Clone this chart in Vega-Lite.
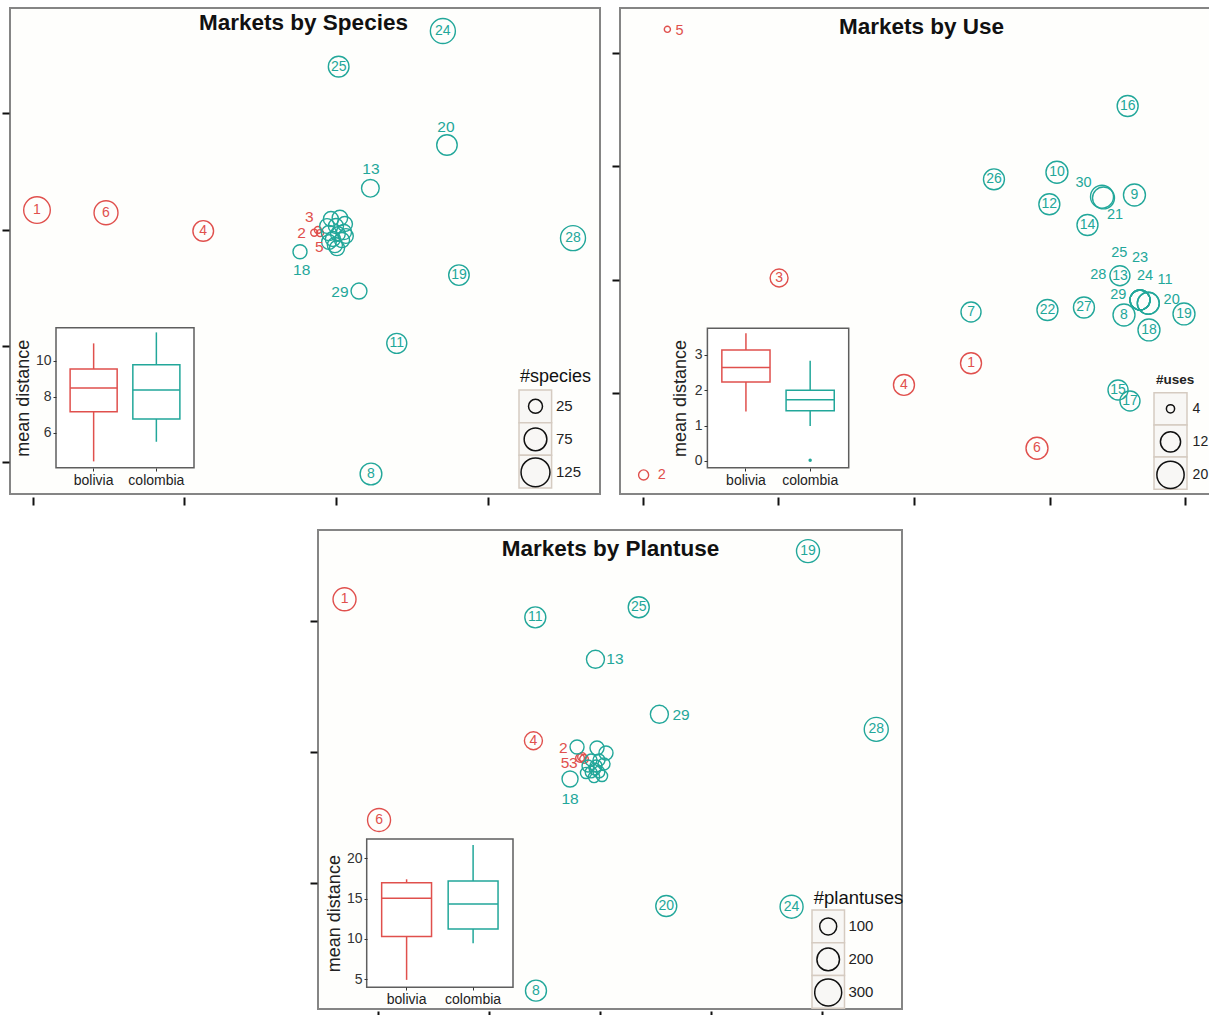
{
  "$schema": "https://vega.github.io/schema/vega-lite/v6.json",
  "width": 1209,
  "height": 1015,
  "autosize": "none",
  "padding": 0,
  "background": "white",
  "config": {"font": "Liberation Sans", "view": {"stroke": null}},
  "datasets": {
    "p1": [
      {"id": 1, "country": "bolivia", "x": -1.971, "y": 1.169, "n": 105, "lab": "1", "lx": -1.971, "ly": 1.169},
      {"id": 6, "country": "bolivia", "x": -1.516, "y": 1.146, "n": 84, "lab": "6", "lx": -1.516, "ly": 1.146},
      {"id": 4, "country": "bolivia", "x": -0.875, "y": 0.989, "n": 61, "lab": "4", "lx": -0.875, "ly": 0.989},
      {"id": 2, "country": "bolivia", "x": -0.143, "y": 0.974, "n": 2, "lab": "2", "lx": -0.226, "ly": 0.969},
      {"id": 3, "country": "bolivia", "x": -0.119, "y": 0.997, "n": 2, "lab": "3", "lx": -0.176, "ly": 1.11},
      {"id": 5, "country": "bolivia", "x": -0.105, "y": 0.971, "n": 2, "lab": "5", "lx": -0.11, "ly": 0.855},
      {"id": 7, "country": "colombia", "x": -0.033, "y": 1.092, "n": 30},
      {"id": 9, "country": "colombia", "x": 0.026, "y": 1.1, "n": 32},
      {"id": 10, "country": "colombia", "x": 0.059, "y": 1.049, "n": 30},
      {"id": 12, "country": "colombia", "x": -0.059, "y": 1.032, "n": 28},
      {"id": 14, "country": "colombia", "x": 0.0, "y": 1.032, "n": 30},
      {"id": 15, "country": "colombia", "x": 0.053, "y": 0.98, "n": 30},
      {"id": 16, "country": "colombia", "x": -0.046, "y": 0.971, "n": 30},
      {"id": 17, "country": "colombia", "x": 0.013, "y": 0.963, "n": 28},
      {"id": 21, "country": "colombia", "x": -0.02, "y": 0.92, "n": 30},
      {"id": 22, "country": "colombia", "x": 0.04, "y": 0.911, "n": 30},
      {"id": 23, "country": "colombia", "x": 0.066, "y": 0.946, "n": 28},
      {"id": 26, "country": "colombia", "x": -0.007, "y": 0.868, "n": 30},
      {"id": 27, "country": "colombia", "x": -0.046, "y": 0.894, "n": 28},
      {"id": 30, "country": "colombia", "x": 0.007, "y": 0.842, "n": 30},
      {"id": 24, "country": "colombia", "x": 0.705, "y": 2.708, "n": 92, "lab": "24", "lx": 0.705, "ly": 2.708},
      {"id": 25, "country": "colombia", "x": 0.018, "y": 2.402, "n": 61, "lab": "25", "lx": 0.018, "ly": 2.402},
      {"id": 20, "country": "colombia", "x": 0.732, "y": 1.728, "n": 60, "lab": "20", "lx": 0.725, "ly": 1.883},
      {"id": 13, "country": "colombia", "x": 0.227, "y": 1.356, "n": 43, "lab": "13", "lx": 0.231, "ly": 1.519},
      {"id": 28, "country": "colombia", "x": 1.563, "y": 0.928, "n": 92, "lab": "28", "lx": 1.563, "ly": 0.928},
      {"id": 18, "country": "colombia", "x": -0.237, "y": 0.811, "n": 25, "lab": "18", "lx": -0.226, "ly": 0.653},
      {"id": 19, "country": "colombia", "x": 0.811, "y": 0.61, "n": 60, "lab": "19", "lx": 0.811, "ly": 0.61},
      {"id": 29, "country": "colombia", "x": 0.152, "y": 0.473, "n": 34, "lab": "29", "lx": 0.026, "ly": 0.464},
      {"id": 11, "country": "colombia", "x": 0.401, "y": 0.023, "n": 57, "lab": "11", "lx": 0.401, "ly": 0.023},
      {"id": 8, "country": "colombia", "x": 0.231, "y": -1.1, "n": 68, "lab": "8", "lx": 0.231, "ly": -1.1}
    ],
    "p2": [
      {"id": 1, "country": "bolivia", "x": 0.42, "y": 0.262, "n": 12.8, "lab": "1", "lx": 0.42, "ly": 0.262},
      {"id": 2, "country": "bolivia", "x": -1.992, "y": -0.723, "n": 4.8, "lab": "2", "lx": -1.859, "ly": -0.723},
      {"id": 3, "country": "bolivia", "x": -0.994, "y": 1.014, "n": 10, "lab": "3", "lx": -0.994, "ly": 1.014},
      {"id": 4, "country": "bolivia", "x": -0.074, "y": 0.071, "n": 12.8, "lab": "4", "lx": -0.074, "ly": 0.071},
      {"id": 5, "country": "bolivia", "x": -1.817, "y": 3.207, "n": 3.3, "lab": "5", "lx": -1.727, "ly": 3.195},
      {"id": 6, "country": "bolivia", "x": 0.906, "y": -0.488, "n": 13.8, "lab": "6", "lx": 0.906, "ly": -0.488},
      {"id": 7, "country": "colombia", "x": 0.42, "y": 0.714, "n": 11.9, "lab": "7", "lx": 0.42, "ly": 0.714},
      {"id": 8, "country": "colombia", "x": 1.547, "y": 0.688, "n": 13.8, "lab": "8", "lx": 1.547, "ly": 0.688},
      {"id": 9, "country": "colombia", "x": 1.624, "y": 1.746, "n": 13.8, "lab": "9", "lx": 1.624, "ly": 1.746},
      {"id": 10, "country": "colombia", "x": 1.053, "y": 1.946, "n": 13.8, "lab": "10", "lx": 1.053, "ly": 1.946},
      {"id": 11, "country": "colombia", "x": 1.726, "y": 0.791, "n": 13.8, "lab": "11", "lx": 1.849, "ly": 1.0},
      {"id": 12, "country": "colombia", "x": 0.997, "y": 1.664, "n": 12.8, "lab": "12", "lx": 0.997, "ly": 1.664},
      {"id": 13, "country": "colombia", "x": 1.517, "y": 1.034, "n": 11.9, "lab": "13", "lx": 1.517, "ly": 1.034},
      {"id": 14, "country": "colombia", "x": 1.278, "y": 1.481, "n": 12.8, "lab": "14", "lx": 1.278, "ly": 1.481},
      {"id": 15, "country": "colombia", "x": 1.503, "y": 0.026, "n": 11.9, "lab": "15", "lx": 1.503, "ly": 0.026},
      {"id": 16, "country": "colombia", "x": 1.574, "y": 2.531, "n": 12.8, "lab": "16", "lx": 1.574, "ly": 2.531},
      {"id": 17, "country": "colombia", "x": 1.591, "y": -0.071, "n": 11.9, "lab": "17", "lx": 1.591, "ly": -0.071},
      {"id": 18, "country": "colombia", "x": 1.731, "y": 0.556, "n": 13.8, "lab": "18", "lx": 1.731, "ly": 0.556},
      {"id": 19, "country": "colombia", "x": 1.989, "y": 0.697, "n": 13.8, "lab": "19", "lx": 1.989, "ly": 0.697},
      {"id": 20, "country": "colombia", "x": 1.726, "y": 0.791, "n": 13.8, "lab": "20", "lx": 1.898, "ly": 0.82},
      {"id": 21, "country": "colombia", "x": 1.396, "y": 1.72, "n": 13.8, "lab": "21", "lx": 1.481, "ly": 1.57},
      {"id": 22, "country": "colombia", "x": 0.983, "y": 0.732, "n": 12.8, "lab": "22", "lx": 0.983, "ly": 0.732},
      {"id": 23, "country": "colombia", "x": 1.665, "y": 0.82, "n": 11.9, "lab": "23", "lx": 1.665, "ly": 1.188},
      {"id": 24, "country": "colombia", "x": 1.665, "y": 0.82, "n": 11.9, "lab": "24", "lx": 1.702, "ly": 1.034},
      {"id": 25, "country": "colombia", "x": 1.665, "y": 0.82, "n": 11.9, "lab": "25", "lx": 1.512, "ly": 1.232},
      {"id": 26, "country": "colombia", "x": 0.589, "y": 1.884, "n": 12.8, "lab": "26", "lx": 0.589, "ly": 1.884},
      {"id": 27, "country": "colombia", "x": 1.252, "y": 0.754, "n": 12.8, "lab": "27", "lx": 1.252, "ly": 0.754},
      {"id": 28, "country": "colombia", "x": 1.665, "y": 0.82, "n": 11.9, "lab": "28", "lx": 1.358, "ly": 1.041},
      {"id": 29, "country": "colombia", "x": 1.665, "y": 0.82, "n": 11.9, "lab": "29", "lx": 1.505, "ly": 0.864},
      {"id": 30, "country": "colombia", "x": 1.385, "y": 1.731, "n": 14.9, "lab": "30", "lx": 1.249, "ly": 1.854}
    ],
    "p3": [
      {"id": 1, "country": "bolivia", "x": -2.302, "y": 1.166, "n": 209, "lab": "1", "lx": -2.302, "ly": 1.166},
      {"id": 2, "country": "bolivia", "x": -0.162, "y": -0.038, "n": 3, "lab": "2", "lx": -0.331, "ly": 0.03},
      {"id": 3, "country": "bolivia", "x": -0.144, "y": -0.053, "n": 3, "lab": "3", "lx": -0.24, "ly": -0.085},
      {"id": 4, "country": "bolivia", "x": -0.6, "y": 0.086, "n": 116, "lab": "4", "lx": -0.6, "ly": 0.086},
      {"id": 5, "country": "bolivia", "x": -0.18, "y": -0.046, "n": 3, "lab": "5", "lx": -0.315, "ly": -0.085},
      {"id": 6, "country": "bolivia", "x": -1.991, "y": -0.519, "n": 209, "lab": "6", "lx": -1.991, "ly": -0.519},
      {"id": 7, "country": "colombia", "x": -0.207, "y": 0.038, "n": 58},
      {"id": 8, "country": "colombia", "x": -0.577, "y": -1.822, "n": 169, "lab": "8", "lx": -0.577, "ly": -1.822},
      {"id": 9, "country": "colombia", "x": -0.027, "y": 0.031, "n": 58},
      {"id": 10, "country": "colombia", "x": 0.054, "y": -0.008, "n": 58},
      {"id": 11, "country": "colombia", "x": -0.583, "y": 1.028, "n": 169, "lab": "11", "lx": -0.583, "ly": 1.028},
      {"id": 12, "country": "colombia", "x": -0.081, "y": -0.061, "n": 34},
      {"id": 13, "country": "colombia", "x": -0.041, "y": 0.708, "n": 116, "lab": "13", "lx": 0.135, "ly": 0.708},
      {"id": 14, "country": "colombia", "x": -0.009, "y": -0.061, "n": 34},
      {"id": 15, "country": "colombia", "x": -0.108, "y": -0.107, "n": 34},
      {"id": 16, "country": "colombia", "x": -0.036, "y": -0.107, "n": 34},
      {"id": 17, "country": "colombia", "x": 0.036, "y": -0.092, "n": 34},
      {"id": 18, "country": "colombia", "x": -0.27, "y": -0.206, "n": 85, "lab": "18", "lx": -0.27, "ly": -0.36},
      {"id": 19, "country": "colombia", "x": 1.874, "y": 1.534, "n": 209, "lab": "19", "lx": 1.874, "ly": 1.534},
      {"id": 20, "country": "colombia", "x": 0.597, "y": -1.176, "n": 169, "lab": "20", "lx": 0.597, "ly": -1.176},
      {"id": 21, "country": "colombia", "x": -0.081, "y": -0.153, "n": 30},
      {"id": 22, "country": "colombia", "x": -0.009, "y": -0.153, "n": 30},
      {"id": 23, "country": "colombia", "x": -0.054, "y": -0.191, "n": 25},
      {"id": 24, "country": "colombia", "x": 1.726, "y": -1.181, "n": 209, "lab": "24", "lx": 1.726, "ly": -1.181},
      {"id": 25, "country": "colombia", "x": 0.349, "y": 1.105, "n": 169, "lab": "25", "lx": 0.349, "ly": 1.105},
      {"id": 26, "country": "colombia", "x": 0.018, "y": -0.183, "n": 25},
      {"id": 27, "country": "colombia", "x": -0.126, "y": -0.16, "n": 25},
      {"id": 28, "country": "colombia", "x": 2.489, "y": 0.173, "n": 230, "lab": "28", "lx": 2.489, "ly": 0.173},
      {"id": 29, "country": "colombia", "x": 0.535, "y": 0.288, "n": 116, "lab": "29", "lx": 0.73, "ly": 0.282},
      {"id": 30, "country": "colombia", "x": -0.045, "y": -0.13, "n": 30}
    ],
    "b1": [
      {"country": "bolivia", "lo": 4.41, "q1": 7.17, "med": 8.48, "q3": 9.54, "hi": 10.96},
      {"country": "colombia", "lo": 5.5, "q1": 6.76, "med": 8.37, "q3": 9.78, "hi": 11.57}
    ],
    "b2": [
      {"country": "bolivia", "lo": 1.4, "q1": 2.23, "med": 2.64, "q3": 3.14, "hi": 3.61},
      {"country": "colombia", "lo": 0.99, "q1": 1.42, "med": 1.73, "q3": 2.0, "hi": 2.83}
    ],
    "o2": [
      {"country": "colombia", "v": 0.02}
    ],
    "b3": [
      {"country": "bolivia", "lo": 4.92, "q1": 10.29, "med": 15.04, "q3": 16.98, "hi": 17.4},
      {"country": "colombia", "lo": 9.46, "q1": 11.24, "med": 14.34, "q3": 17.19, "hi": 21.65}
    ]
  },
  "resolve": {
    "scale": {"x": "independent", "y": "independent", "size": "independent"},
    "axis": {"x": "independent", "y": "independent"},
    "legend": {"size": "independent"}
  },
  "layer": [
    {
      "layer": [
        {
          "data": {"values": [{"x": -2.149, "xe": 1.741, "y": -1.272, "ye": 2.906}]},
          "mark": {"type": "rect", "fill": "#FEFEFC", "stroke": "#858585", "strokeWidth": 2},
          "encoding": {
            "x": {"field": "x", "type": "quantitative", "scale": {"domain": [-2.149, 1.741], "range": [10, 600], "nice": false, "zero": false},
              "axis": {"zindex": 1, "orient": "bottom", "offset": -518, "values": [-2, -1, 0, 1], "labels": false, "domain": false, "grid": false, "tickSize": 8, "tickWidth": 2, "tickColor": "#111", "title": "Markets by Species", "titleX": 303, "titleY": -475, "titleBaseline": "middle", "titleAlign": "center", "titleFontSize": 22.5, "titleFontWeight": "bold", "titleColor": "#111"}},
            "x2": {"field": "xe"},
            "y": {"field": "y", "type": "quantitative", "scale": {"domain": [-1.272, 2.906], "range": [494, 8], "nice": false, "zero": false},
              "axis": {"zindex": 1, "orient": "left", "offset": -9, "values": [-1, 0, 1, 2], "labels": false, "domain": false, "grid": false, "tickSize": 7, "tickWidth": 2, "tickColor": "#111", "title": null}},
            "y2": {"field": "ye"}
          }
        },
        {
          "data": {"name": "p1"},
          "mark": {"type": "point", "filled": false, "opacity": 1, "strokeWidth": 1.4},
          "encoding": {
            "x": {"field": "x", "type": "quantitative", "scale": {"domain": [-2.149, 1.741], "range": [10, 600], "nice": false, "zero": false}},
            "y": {"field": "y", "type": "quantitative", "scale": {"domain": [-1.272, 2.906], "range": [494, 8], "nice": false, "zero": false}},
            "color": {"field": "country", "type": "nominal", "scale": {"domain": ["bolivia", "colombia"], "range": ["#E0504D", "#22A79A"]}, "legend": null},
            "size": {"field": "n", "type": "quantitative", "scale": {"type": "linear", "domain": [0, 125], "range": [36, 836], "zero": false, "nice": false},
              "legend": {"title": "#species", "orient": "none", "legendX": 520, "legendY": 368, "values": [25, 75, 125], "symbolType": "circle", "symbolStrokeColor": "#111", "symbolFillColor": "transparent", "symbolStrokeWidth": 1.5, "labelFontSize": 15, "labelColor": "#222", "labelOffset": 5, "titleFontSize": 18, "titleFontWeight": "normal", "titleColor": "#111", "titlePadding": 4, "clipHeight": 32.7, "rowPadding": 0, "padding": 0}}
          }
        },
        {
          "data": {"name": "p1"},
          "mark": {"type": "text", "baseline": "middle", "align": "center"},
          "encoding": {
            "x": {"field": "lx", "type": "quantitative", "scale": {"domain": [-2.149, 1.741], "range": [10, 600], "nice": false, "zero": false}},
            "y": {"field": "ly", "type": "quantitative", "scale": {"domain": [-1.272, 2.906], "range": [494, 8], "nice": false, "zero": false}},
            "color": {"field": "country", "type": "nominal", "scale": {"domain": ["bolivia", "colombia"], "range": ["#E0504D", "#22A79A"]}, "legend": null},
            "size": {"condition": {"test": "datum.lx !== datum.x || datum.ly !== datum.y", "value": 15.5}, "value": 14},
            "text": {"field": "lab"}
          }
        }
      ]
    },
    {
      "data": {"values": [{"leg": "#species", "key": "25"}, {"leg": "#species", "key": "75"}, {"leg": "#species", "key": "125"}]},
      "mark": {"type": "rect", "fill": "#F8F7F5", "stroke": "#D5CBC1", "strokeWidth": 1.5},
      "encoding": {
        "x": {"field": "leg", "type": "nominal", "scale": {"type": "band", "range": [519, 551.6], "paddingInner": 0, "paddingOuter": 0}, "axis": null},
        "y": {"field": "key", "type": "nominal", "sort": null, "scale": {"type": "band", "domain": ["25", "75", "125"], "range": [390, 488], "paddingInner": 0, "paddingOuter": 0}, "axis": null}
      }
    },
    {
      "data": {"values": [{"a": 0, "ae": 1, "b": 0, "be": 1}]},
      "mark": {"type": "rect", "fill": "white", "stroke": "#5E5E5E", "strokeWidth": 1.5},
      "encoding": {
        "x": {"field": "a", "type": "quantitative", "scale": {"domain": [0, 1], "range": [56, 194], "nice": false, "zero": false}, "axis": null},
        "x2": {"field": "ae"},
        "y": {"field": "b", "type": "quantitative", "scale": {"domain": [0, 1], "range": [467.7, 327.7], "nice": false, "zero": false}, "axis": null},
        "y2": {"field": "be"}
      }
    },
    {
      "data": {"name": "b1"},
      "layer": [
        {
          "mark": {"type": "rule", "strokeWidth": 1.5},
          "encoding": {
            "x": {"field": "country", "type": "nominal", "scale": {"type": "band", "domain": ["bolivia", "colombia"], "range": [56, 194], "paddingInner": 0.25, "paddingOuter": 0.225},
              "axis": {"zindex": 1, "orient": "bottom", "offset": -547, "domain": false, "grid": false, "tickSize": 3, "tickColor": "#333", "labelFontSize": 14, "labelColor": "#222", "labelPadding": 2, "labelAngle": 0, "title": null}},
            "y": {"field": "lo", "type": "quantitative", "scale": {"domain": [4.06, 11.83], "range": [467.7, 327.7], "nice": false, "zero": false},
              "axis": {"zindex": 1, "orient": "left", "offset": -56, "values": [6, 8, 10], "format": "d", "domain": false, "grid": false, "tickSize": 3, "tickColor": "#333", "labelFontSize": 14, "labelColor": "#333", "labelPadding": 2, "title": "mean distance", "titleFontSize": 18, "titleFontWeight": "normal", "titleColor": "#222", "titlePadding": 3}},
            "y2": {"field": "hi"},
            "color": {"field": "country", "type": "nominal", "scale": {"domain": ["bolivia", "colombia"], "range": ["#E0504D", "#22A79A"]}, "legend": null}
          }
        },
        {
          "mark": {"type": "rect", "fill": "white", "strokeWidth": 1.5},
          "encoding": {
            "x": {"field": "country", "type": "nominal", "scale": {"type": "band", "domain": ["bolivia", "colombia"], "range": [56, 194], "paddingInner": 0.25, "paddingOuter": 0.225}},
            "y": {"field": "q1", "type": "quantitative", "scale": {"domain": [4.06, 11.83], "range": [467.7, 327.7], "nice": false, "zero": false}},
            "y2": {"field": "q3"},
            "stroke": {"field": "country", "type": "nominal", "scale": {"domain": ["bolivia", "colombia"], "range": ["#E0504D", "#22A79A"]}, "legend": null}
          }
        },
        {
          "mark": {"type": "rect", "fill": "white", "strokeWidth": 1.5},
          "encoding": {
            "x": {"field": "country", "type": "nominal", "scale": {"type": "band", "domain": ["bolivia", "colombia"], "range": [56, 194], "paddingInner": 0.25, "paddingOuter": 0.225}},
            "y": {"field": "med", "type": "quantitative", "scale": {"domain": [4.06, 11.83], "range": [467.7, 327.7], "nice": false, "zero": false}},
            "y2": {"field": "med"},
            "stroke": {"field": "country", "type": "nominal", "scale": {"domain": ["bolivia", "colombia"], "range": ["#E0504D", "#22A79A"]}, "legend": null}
          }
        }
      ]
    },
    {
      "layer": [
        {
          "data": {"values": [{"x": -2.166, "xe": 2.269, "y": -0.891, "ye": 3.395}]},
          "mark": {"type": "rect", "fill": "#FEFEFC", "stroke": "#858585", "strokeWidth": 2},
          "encoding": {
            "x": {"field": "x", "type": "quantitative", "scale": {"domain": [-2.166, 2.269], "range": [620, 1222], "nice": false, "zero": false},
              "axis": {"zindex": 1, "orient": "bottom", "offset": -518, "values": [-2, -1, 0, 1, 2], "labels": false, "domain": false, "grid": false, "tickSize": 8, "tickWidth": 2, "tickColor": "#111", "title": "Markets by Use", "titleX": 921, "titleY": -471, "titleBaseline": "middle", "titleAlign": "center", "titleFontSize": 22.5, "titleFontWeight": "bold", "titleColor": "#111"}},
            "x2": {"field": "xe"},
            "y": {"field": "y", "type": "quantitative", "scale": {"domain": [-0.891, 3.395], "range": [494, 8], "nice": false, "zero": false},
              "axis": {"zindex": 1, "orient": "left", "offset": -619, "values": [0, 1, 2, 3], "labels": false, "domain": false, "grid": false, "tickSize": 7, "tickWidth": 2, "tickColor": "#111", "title": null}},
            "y2": {"field": "ye"}
          }
        },
        {
          "data": {"name": "p2"},
          "mark": {"type": "point", "filled": false, "opacity": 1, "strokeWidth": 1.4},
          "encoding": {
            "x": {"field": "x", "type": "quantitative", "scale": {"domain": [-2.166, 2.269], "range": [620, 1222], "nice": false, "zero": false}},
            "y": {"field": "y", "type": "quantitative", "scale": {"domain": [-0.891, 3.395], "range": [494, 8], "nice": false, "zero": false}},
            "color": {"field": "country", "type": "nominal", "scale": {"domain": ["bolivia", "colombia"], "range": ["#E0504D", "#22A79A"]}, "legend": null},
            "size": {"field": "n", "type": "quantitative", "scale": {"type": "linear", "domain": [3, 20], "range": [25, 745], "zero": false, "nice": false},
              "legend": {"title": "#uses", "orient": "none", "legendX": 1156, "legendY": 373.2, "values": [4, 12, 20], "symbolType": "circle", "symbolStrokeColor": "#111", "symbolFillColor": "transparent", "symbolStrokeWidth": 1.5, "labelFontSize": 14, "labelColor": "#222", "labelOffset": 7.6, "titleFontSize": 13.5, "titleFontWeight": "bold", "titleColor": "#222", "titlePadding": 6, "clipHeight": 32.2, "rowPadding": 0, "padding": 0}}
          }
        },
        {
          "data": {"name": "p2"},
          "mark": {"type": "text", "baseline": "middle", "align": "center"},
          "encoding": {
            "x": {"field": "lx", "type": "quantitative", "scale": {"domain": [-2.166, 2.269], "range": [620, 1222], "nice": false, "zero": false}},
            "y": {"field": "ly", "type": "quantitative", "scale": {"domain": [-0.891, 3.395], "range": [494, 8], "nice": false, "zero": false}},
            "color": {"field": "country", "type": "nominal", "scale": {"domain": ["bolivia", "colombia"], "range": ["#E0504D", "#22A79A"]}, "legend": null},
            "size": {"condition": {"test": "datum.lx !== datum.x || datum.ly !== datum.y", "value": 14.5}, "value": 14},
            "text": {"field": "lab"}
          }
        }
      ]
    },
    {
      "data": {"values": [{"leg": "#uses", "key": "4"}, {"leg": "#uses", "key": "12"}, {"leg": "#uses", "key": "20"}]},
      "mark": {"type": "rect", "fill": "#F8F7F5", "stroke": "#D5CBC1", "strokeWidth": 1.5},
      "encoding": {
        "x": {"field": "leg", "type": "nominal", "scale": {"type": "band", "range": [1154, 1187], "paddingInner": 0, "paddingOuter": 0}, "axis": null},
        "y": {"field": "key", "type": "nominal", "sort": null, "scale": {"type": "band", "domain": ["4", "12", "20"], "range": [392.7, 489.3], "paddingInner": 0, "paddingOuter": 0}, "axis": null}
      }
    },
    {
      "data": {"values": [{"a": 0, "ae": 1, "b": 0, "be": 1}]},
      "mark": {"type": "rect", "fill": "white", "stroke": "#5E5E5E", "strokeWidth": 1.5},
      "encoding": {
        "x": {"field": "a", "type": "quantitative", "scale": {"domain": [0, 1], "range": [707.4, 848.7], "nice": false, "zero": false}, "axis": null},
        "x2": {"field": "ae"},
        "y": {"field": "b", "type": "quantitative", "scale": {"domain": [0, 1], "range": [467.7, 328.3], "nice": false, "zero": false}, "axis": null},
        "y2": {"field": "be"}
      }
    },
    {
      "data": {"name": "b2"},
      "layer": [
        {
          "mark": {"type": "rule", "strokeWidth": 1.5},
          "encoding": {
            "x": {"field": "country", "type": "nominal", "scale": {"type": "band", "domain": ["bolivia", "colombia"], "range": [707.4, 848.7], "paddingInner": 0.25, "paddingOuter": 0.225},
              "axis": {"zindex": 1, "orient": "bottom", "offset": -547, "domain": false, "grid": false, "tickSize": 3, "tickColor": "#333", "labelFontSize": 14, "labelColor": "#222", "labelPadding": 2, "labelAngle": 0, "title": null}},
            "y": {"field": "lo", "type": "quantitative", "scale": {"domain": [-0.19, 3.75], "range": [467.7, 328.3], "nice": false, "zero": false},
              "axis": {"zindex": 1, "orient": "left", "offset": -707, "values": [0, 1, 2, 3], "format": "d", "domain": false, "grid": false, "tickSize": 3, "tickColor": "#333", "labelFontSize": 14, "labelColor": "#333", "labelPadding": 2, "title": "mean distance", "titleFontSize": 18, "titleFontWeight": "normal", "titleColor": "#222", "titlePadding": 5}},
            "y2": {"field": "hi"},
            "color": {"field": "country", "type": "nominal", "scale": {"domain": ["bolivia", "colombia"], "range": ["#E0504D", "#22A79A"]}, "legend": null}
          }
        },
        {
          "mark": {"type": "rect", "fill": "white", "strokeWidth": 1.5},
          "encoding": {
            "x": {"field": "country", "type": "nominal", "scale": {"type": "band", "domain": ["bolivia", "colombia"], "range": [707.4, 848.7], "paddingInner": 0.25, "paddingOuter": 0.225}},
            "y": {"field": "q1", "type": "quantitative", "scale": {"domain": [-0.19, 3.75], "range": [467.7, 328.3], "nice": false, "zero": false}},
            "y2": {"field": "q3"},
            "stroke": {"field": "country", "type": "nominal", "scale": {"domain": ["bolivia", "colombia"], "range": ["#E0504D", "#22A79A"]}, "legend": null}
          }
        },
        {
          "mark": {"type": "rect", "fill": "white", "strokeWidth": 1.5},
          "encoding": {
            "x": {"field": "country", "type": "nominal", "scale": {"type": "band", "domain": ["bolivia", "colombia"], "range": [707.4, 848.7], "paddingInner": 0.25, "paddingOuter": 0.225}},
            "y": {"field": "med", "type": "quantitative", "scale": {"domain": [-0.19, 3.75], "range": [467.7, 328.3], "nice": false, "zero": false}},
            "y2": {"field": "med"},
            "stroke": {"field": "country", "type": "nominal", "scale": {"domain": ["bolivia", "colombia"], "range": ["#E0504D", "#22A79A"]}, "legend": null}
          }
        },
        {
          "data": {"name": "o2"},
          "mark": {"type": "point", "filled": true, "opacity": 1, "size": 12},
          "encoding": {
            "x": {"field": "country", "type": "nominal", "scale": {"type": "band", "domain": ["bolivia", "colombia"], "range": [707.4, 848.7], "paddingInner": 0.25, "paddingOuter": 0.225}},
            "y": {"field": "v", "type": "quantitative", "scale": {"domain": [-0.19, 3.75], "range": [467.7, 328.3], "nice": false, "zero": false}},
            "color": {"field": "country", "type": "nominal", "scale": {"domain": ["bolivia", "colombia"], "range": ["#E0504D", "#22A79A"]}, "legend": null}
          }
        }
      ]
    },
    {
      "layer": [
        {
          "data": {"values": [{"x": -2.541, "xe": 2.721, "y": -1.962, "ye": 1.695}]},
          "mark": {"type": "rect", "fill": "#FEFEFC", "stroke": "#858585", "strokeWidth": 2},
          "encoding": {
            "x": {"field": "x", "type": "quantitative", "scale": {"domain": [-2.541, 2.721], "range": [318, 902], "nice": false, "zero": false},
              "axis": {"zindex": 1, "orient": "bottom", "offset": -4, "values": [-2, -1, 0, 1, 2], "labels": false, "domain": false, "grid": false, "tickSize": 8, "tickWidth": 2, "tickColor": "#111", "title": "Markets by Plantuse", "titleX": 610, "titleY": -463, "titleBaseline": "middle", "titleAlign": "center", "titleFontSize": 22.5, "titleFontWeight": "bold", "titleColor": "#111"}},
            "x2": {"field": "xe"},
            "y": {"field": "y", "type": "quantitative", "scale": {"domain": [-1.962, 1.695], "range": [1009, 530], "nice": false, "zero": false},
              "axis": {"zindex": 1, "orient": "left", "offset": -317, "values": [-1, 0, 1], "labels": false, "domain": false, "grid": false, "tickSize": 7, "tickWidth": 2, "tickColor": "#111", "title": null}},
            "y2": {"field": "ye"}
          }
        },
        {
          "data": {"name": "p3"},
          "mark": {"type": "point", "filled": false, "opacity": 1, "strokeWidth": 1.4},
          "encoding": {
            "x": {"field": "x", "type": "quantitative", "scale": {"domain": [-2.541, 2.721], "range": [318, 902], "nice": false, "zero": false}},
            "y": {"field": "y", "type": "quantitative", "scale": {"domain": [-1.962, 1.695], "range": [1009, 530], "nice": false, "zero": false}},
            "color": {"field": "country", "type": "nominal", "scale": {"domain": ["bolivia", "colombia"], "range": ["#E0504D", "#22A79A"]}, "legend": null},
            "size": {"field": "n", "type": "quantitative", "scale": {"type": "linear", "domain": [0, 300], "range": [69, 729], "zero": false, "nice": false},
              "legend": {"title": "#plantuses", "orient": "none", "legendX": 813.7, "legendY": 888.8, "values": [100, 200, 300], "symbolType": "circle", "symbolStrokeColor": "#111", "symbolFillColor": "transparent", "symbolStrokeWidth": 1.5, "labelFontSize": 15, "labelColor": "#222", "labelOffset": 5.7, "titleFontSize": 18.5, "titleFontWeight": "normal", "titleColor": "#111", "titlePadding": 2.7, "clipHeight": 32.8, "rowPadding": 0, "padding": 0}}
          }
        },
        {
          "data": {"name": "p3"},
          "mark": {"type": "text", "baseline": "middle", "align": "center"},
          "encoding": {
            "x": {"field": "lx", "type": "quantitative", "scale": {"domain": [-2.541, 2.721], "range": [318, 902], "nice": false, "zero": false}},
            "y": {"field": "ly", "type": "quantitative", "scale": {"domain": [-1.962, 1.695], "range": [1009, 530], "nice": false, "zero": false}},
            "color": {"field": "country", "type": "nominal", "scale": {"domain": ["bolivia", "colombia"], "range": ["#E0504D", "#22A79A"]}, "legend": null},
            "size": {"condition": {"test": "datum.lx !== datum.x || datum.ly !== datum.y", "value": 15.5}, "value": 14},
            "text": {"field": "lab"}
          }
        }
      ]
    },
    {
      "data": {"values": [{"leg": "#plantuses", "key": "100"}, {"leg": "#plantuses", "key": "200"}, {"leg": "#plantuses", "key": "300"}]},
      "mark": {"type": "rect", "fill": "#F8F7F5", "stroke": "#D5CBC1", "strokeWidth": 1.5},
      "encoding": {
        "x": {"field": "leg", "type": "nominal", "scale": {"type": "band", "range": [812, 844.5], "paddingInner": 0, "paddingOuter": 0}, "axis": null},
        "y": {"field": "key", "type": "nominal", "sort": null, "scale": {"type": "band", "domain": ["100", "200", "300"], "range": [910, 1008.3], "paddingInner": 0, "paddingOuter": 0}, "axis": null}
      }
    },
    {
      "data": {"values": [{"a": 0, "ae": 1, "b": 0, "be": 1}]},
      "mark": {"type": "rect", "fill": "white", "stroke": "#5E5E5E", "strokeWidth": 1.5},
      "encoding": {
        "x": {"field": "a", "type": "quantitative", "scale": {"domain": [0, 1], "range": [366.7, 513], "nice": false, "zero": false}, "axis": null},
        "x2": {"field": "ae"},
        "y": {"field": "b", "type": "quantitative", "scale": {"domain": [0, 1], "range": [987.3, 839], "nice": false, "zero": false}, "axis": null},
        "y2": {"field": "be"}
      }
    },
    {
      "data": {"name": "b3"},
      "layer": [
        {
          "mark": {"type": "rule", "strokeWidth": 1.5},
          "encoding": {
            "x": {"field": "country", "type": "nominal", "scale": {"type": "band", "domain": ["bolivia", "colombia"], "range": [366.7, 513], "paddingInner": 0.25, "paddingOuter": 0.225},
              "axis": {"zindex": 1, "orient": "bottom", "offset": -28, "domain": false, "grid": false, "tickSize": 3, "tickColor": "#333", "labelFontSize": 14, "labelColor": "#222", "labelPadding": 2, "labelAngle": 0, "title": null}},
            "y": {"field": "lo", "type": "quantitative", "scale": {"domain": [4.0, 22.4], "range": [987.3, 839], "nice": false, "zero": false},
              "axis": {"zindex": 1, "orient": "left", "offset": -367, "values": [5, 10, 15, 20], "format": "d", "domain": false, "grid": false, "tickSize": 3, "tickColor": "#333", "labelFontSize": 14, "labelColor": "#333", "labelPadding": 2, "title": "mean distance", "titleFontSize": 18, "titleFontWeight": "normal", "titleColor": "#222", "titlePadding": 3}},
            "y2": {"field": "hi"},
            "color": {"field": "country", "type": "nominal", "scale": {"domain": ["bolivia", "colombia"], "range": ["#E0504D", "#22A79A"]}, "legend": null}
          }
        },
        {
          "mark": {"type": "rect", "fill": "white", "strokeWidth": 1.5},
          "encoding": {
            "x": {"field": "country", "type": "nominal", "scale": {"type": "band", "domain": ["bolivia", "colombia"], "range": [366.7, 513], "paddingInner": 0.25, "paddingOuter": 0.225}},
            "y": {"field": "q1", "type": "quantitative", "scale": {"domain": [4.0, 22.4], "range": [987.3, 839], "nice": false, "zero": false}},
            "y2": {"field": "q3"},
            "stroke": {"field": "country", "type": "nominal", "scale": {"domain": ["bolivia", "colombia"], "range": ["#E0504D", "#22A79A"]}, "legend": null}
          }
        },
        {
          "mark": {"type": "rect", "fill": "white", "strokeWidth": 1.5},
          "encoding": {
            "x": {"field": "country", "type": "nominal", "scale": {"type": "band", "domain": ["bolivia", "colombia"], "range": [366.7, 513], "paddingInner": 0.25, "paddingOuter": 0.225}},
            "y": {"field": "med", "type": "quantitative", "scale": {"domain": [4.0, 22.4], "range": [987.3, 839], "nice": false, "zero": false}},
            "y2": {"field": "med"},
            "stroke": {"field": "country", "type": "nominal", "scale": {"domain": ["bolivia", "colombia"], "range": ["#E0504D", "#22A79A"]}, "legend": null}
          }
        }
      ]
    }
  ]
}
